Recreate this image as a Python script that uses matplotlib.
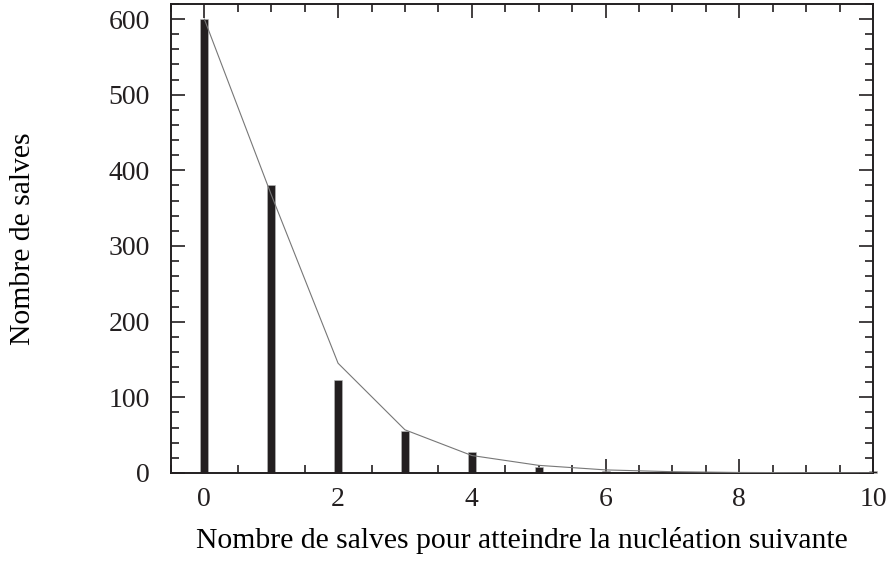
import matplotlib.pyplot as plt
from matplotlib.ticker import MultipleLocator

# nombre de salves avant la nucleation suivante
salves = [0, 1, 2, 3, 4, 5, 6, 7, 8, 9, 10]
comptes = [600, 381, 123, 55, 27, 8, 3, 1, 0.5, 0.3, 2]
ajustement = [600, 368, 145, 57, 23, 10, 4, 1.6, 0.6, 0.3, 0.1]

plt.rcParams['font.family'] = ['Liberation Serif', 'DejaVu Serif']

fig = plt.figure(figsize=(8.9, 5.61), dpi=100)
ax = fig.add_axes([0.192, 0.157, 0.789, 0.836])

ax.bar(salves, comptes, width=0.12, color='#231f20', edgecolor='#bbbbbb', linewidth=0.4,
       zorder=2, clip_on=False)
ax.plot(salves, ajustement, color='#777777', linewidth=0.8, zorder=3)

ax.set_xlim(-0.5, 10)
ax.set_ylim(0, 620)
ax.xaxis.set_major_locator(MultipleLocator(2))
ax.xaxis.set_minor_locator(MultipleLocator(0.5))
ax.yaxis.set_major_locator(MultipleLocator(100))
ax.yaxis.set_minor_locator(MultipleLocator(20))
ax.tick_params(which='both', direction='in', top=True, right=True, labelsize=20, width=1.2, colors='#231f20')
ax.tick_params(which='major', length=10)
ax.tick_params(axis='y', which='major', pad=15)
ax.tick_params(axis='x', which='major', pad=10)
ax.tick_params(which='minor', length=5.5)
for s in ax.spines.values():
    s.set_linewidth(1.4)
    s.set_color('#231f20')

ax.set_xlabel('Nombre de salves pour atteindre la nucléation suivante', fontsize=21.3, labelpad=11)
ax.set_ylabel('Nombre de salves', fontsize=21.3, labelpad=52)

fig.savefig('out.png', dpi=100)
